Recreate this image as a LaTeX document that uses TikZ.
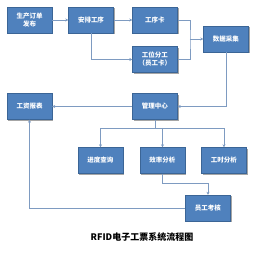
\documentclass[tikz,border=0pt]{standalone}
\usepackage{fontspec}
\newfontfamily\cjk{Noto Sans CJK SC}
\usepackage{tikz}
\usetikzlibrary{arrows.meta,calc,shadows}
\usepackage{xcolor}
\definecolor{rfidblue}{HTML}{4F81BD}
\definecolor{rfidedge}{HTML}{3B6596}
\definecolor{rfidline}{HTML}{7E9BC1}
\tikzset{
  stepbox/.style={draw=rfidedge, fill=rfidblue, minimum width=45pt,
                  minimum height=26pt, inner sep=1pt, align=center,
                  text=white, font=\cjk\bfseries\fontsize{6.5}{8}\selectfont,
                  drop shadow={shadow xshift=1.2pt, shadow yshift=-1.2pt,
                  opacity=0.35, fill=black}},
  caption/.style={font=\cjk\bfseries\fontsize{9}{11}\selectfont, text=black},
  link/.style={draw=rfidline, line width=0.8pt},
  flow/.style={link, -{Stealth[length=3pt, width=3pt]}},
}
\begin{document}
\begin{tikzpicture}[x=1pt, y=-1pt]
\useasboundingbox[fill=white] (0,0) rectangle (258,253);

% upper row
\node[stepbox] (order)   at (29.5,20)  {生产订单\\发布};
\node[stepbox] (arrange) at (91,20)    {安排工序};
\node[stepbox] (card)    at (155,20)   {工序卡};
\node[stepbox] (station) at (155,59.5) {工位分工\\（员工卡）};
\node[stepbox] (collect) at (226,39)   {数据采集};

% middle row
\node[stepbox] (wage) at (29.5,106.5) {工资报表};
\node[stepbox] (mgmt) at (155,106.5)  {管理中心};

% lower rows
\node[stepbox] (progress) at (100.5,160.5) {进度查询};
\node[stepbox] (eff)      at (162.5,160.5) {效率分析};
\node[stepbox] (hours)    at (224,160.5)   {工时分析};
\node[stepbox] (assess)   at (208,208)     {员工考核};

\node[caption] (title) at (142,237) {RFID电子工票系统流程图};

\coordinate (join) at (190,39);
\coordinate (bus)  at (155,128);

\draw[flow] (order) -- (arrange);
\draw[flow] (arrange) -- (card);
\draw[flow] (arrange.south) |- (station.west);
\draw[link] (card.east) -| (join) |- (station.east);
\draw[flow] (join) -- (collect.west);
\draw[flow] (collect.south) |- (mgmt.east);
\draw[flow] (mgmt) -- (wage);

\draw[link] (mgmt.south) -- (bus);
\draw[flow] (bus) -| (progress.north);
\draw[flow] (bus) -| (hours.north);
\draw[flow] (eff.north |- bus) -- (eff.north);
\draw[flow] (eff.south) -- ++(0,10) -| (assess.north);
\draw[flow] (assess.west) -| (wage.south);
\end{tikzpicture}
\end{document}
